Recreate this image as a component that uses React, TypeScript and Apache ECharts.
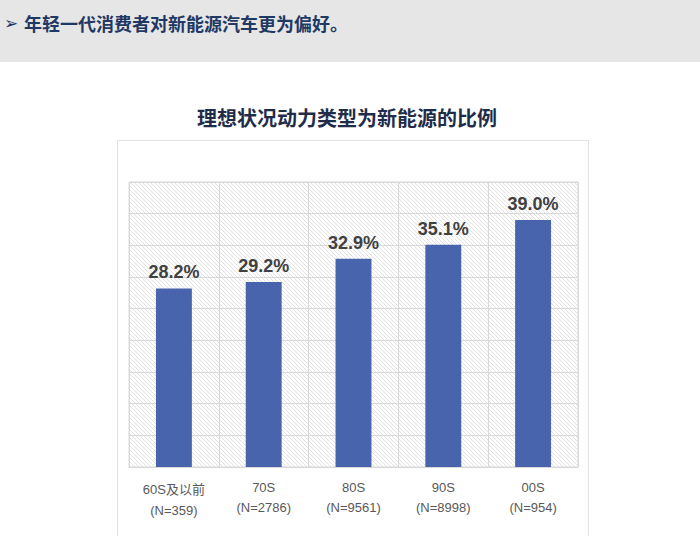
import { useEffect, useRef } from "react";
import * as echarts from "echarts";

const categories = ["60S及以前", "70S", "80S", "90S", "00S"];
const sampleSizes = ["(N=359)", "(N=2786)", "(N=9561)", "(N=8998)", "(N=954)"];
const shares = [28.2, 29.2, 32.9, 35.1, 39.0];

const headline = "年轻一代消费者对新能源汽车更为偏好。";
const chartTitle = "理想状况动力类型为新能源的比例";

const latin = "'Liberation Sans', Arial, 'Noto Sans CJK SC', sans-serif";
const cjk = "'Noto Sans CJK SC', 'Liberation Sans', sans-serif";

function hatch() {
  const c = document.createElement("canvas");
  c.width = 4;
  c.height = 4;
  const g = c.getContext("2d")!;
  g.fillStyle = "#ffffff";
  g.fillRect(0, 0, 4, 4);
  g.strokeStyle = "#e2e2e2";
  g.lineWidth = 1;
  g.beginPath();
  g.moveTo(-1, -1);
  g.lineTo(5, 5);
  g.moveTo(-1, 3);
  g.lineTo(1, 5);
  g.moveTo(3, -1);
  g.lineTo(5, 1);
  g.stroke();
  return c;
}

export default function App() {
  const ref = useRef<HTMLDivElement>(null);
  useEffect(() => {
    document.body.style.margin = "0";
    if (!ref.current) return;
    const chart = echarts.init(ref.current, null, { renderer: "svg" });
    chart.setOption({
      animation: false,
      backgroundColor: "#ffffff",
      graphic: [
        { type: "rect", shape: { x: 0, y: 0, width: 700, height: 62 }, style: { fill: "#e6e6e6" } },
        { type: "text", x: 4, y: 23, style: { text: "➢", fill: "#1f3864", font: "bold 17px 'DejaVu Sans'", verticalAlign: "middle" } },
        { type: "text", x: 24, y: 23, style: { text: headline, fill: "#1f3864", font: `bold 18px ${cjk}`, verticalAlign: "middle" } },
        { type: "text", x: 347, y: 117, style: { text: chartTitle, fill: "#1f2d4a", font: `bold 20px ${cjk}`, align: "center", verticalAlign: "middle" } },
        { type: "rect", shape: { x: 117.5, y: 140.5, width: 471, height: 420 }, style: { fill: "none", stroke: "#e3e3e3", lineWidth: 1 } },
      ],
      grid: {
        left: 129,
        right: 122,
        top: 182,
        bottom: 69,
        show: true,
        backgroundColor: { image: hatch(), repeat: "repeat" },
        borderColor: "#d9d9d9",
        borderWidth: 1,
      },
      xAxis: {
        type: "category",
        data: categories,
        axisLine: { show: true, lineStyle: { color: "#d9d9d9" } },
        axisTick: { show: false },
        splitLine: { show: true, interval: 0, lineStyle: { color: "#d9d9d9", width: 1 } },
        axisLabel: {
          interval: 0,
          margin: 10,
          color: "#595959",
          fontSize: 13,
          lineHeight: 20,
          fontFamily: latin,
          formatter: (v: string, i: number) =>
            i === 0 ? `{f|${v}}\n{f|${sampleSizes[i]}}` : `${v}\n${sampleSizes[i]}`,
          rich: { f: { color: "#595959", fontSize: 13, lineHeight: 21, fontFamily: latin, padding: [3, 0, 0, 0] } },
        },
      },
      yAxis: {
        type: "value",
        min: 0,
        max: 45,
        interval: 5,
        axisLabel: { show: false },
        axisLine: { show: false },
        axisTick: { show: false },
        splitLine: { show: true, lineStyle: { color: "#d9d9d9", width: 1 } },
      },
      series: [
        {
          type: "bar",
          data: shares,
          barWidth: "40%",
          itemStyle: { color: "#4864ad" },
          label: {
            show: true,
            position: "top",
            distance: 7,
            color: "#404040",
            fontSize: 18,
            fontWeight: "bold",
            fontFamily: latin,
            formatter: (p: any) => `${p.value.toFixed(1)}%`,
          },
        },
      ],
    });
    return () => chart.dispose();
  }, []);
  return <div ref={ref} style={{ width: 700, height: 536 }} />;
}
